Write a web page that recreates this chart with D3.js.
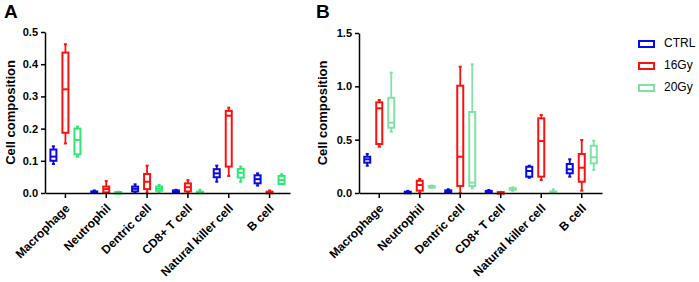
<!DOCTYPE html>
<html>
<head>
<meta charset="utf-8">
<script src="https://cdn.jsdelivr.net/npm/d3@7"></script>
<style>
  body { margin: 0; background: #fff; }
  svg { font-family: "Liberation Sans", Arial, sans-serif; }
</style>
</head>
<body>
<svg id="canvas"></svg>
<script>
const categories = ["Macrophage", "Neutrophil", "Dentric cell", "CD8+ T cell", "Natural killer cell", "B cell"];
const groups = ["CTRL", "16Gy", "20Gy"];

// each entry: [min, q1, median, q3, max]
const statsA_CTRL = [[0.09, 0.10, 0.113, 0.135, 0.145], [0, 0.001, 0.003, 0.005, 0.008], [0, 0.005, 0.013, 0.02, 0.027], [0, 0.002, 0.005, 0.008, 0.01], [0.035, 0.049, 0.061, 0.074, 0.085], [0.023, 0.03, 0.043, 0.055, 0.061]];
const statsA_16Gy = [[0.154, 0.187, 0.322, 0.436, 0.462], [0, 0.002, 0.012, 0.02, 0.037], [0.002, 0.012, 0.035, 0.059, 0.085], [0, 0.005, 0.018, 0.03, 0.04], [0.053, 0.082, 0.24, 0.255, 0.265], [0, 0.001, 0.002, 0.004, 0.008]];
const statsA_20Gy = [[0.113, 0.12, 0.165, 0.2, 0.206], [0, 0.001, 0.002, 0.003, 0.004], [0.002, 0.007, 0.013, 0.02, 0.025], [0, 0, 0.002, 0.004, 0.01], [0.035, 0.048, 0.063, 0.075, 0.082], [0.027, 0.028, 0.04, 0.053, 0.058]];

const statsB_CTRL = [[0.256, 0.284, 0.316, 0.34, 0.366], [0, 0.003, 0.008, 0.012, 0.02], [0, 0.005, 0.015, 0.025, 0.035], [0, 0.005, 0.012, 0.02, 0.028], [0.143, 0.153, 0.206, 0.246, 0.256], [0.153, 0.185, 0.222, 0.272, 0.316]];
const statsB_16Gy = [[0.434, 0.459, 0.794, 0.85, 0.872], [0, 0.022, 0.075, 0.115, 0.131], [0, 0.066, 0.34, 1.006, 1.184], [0, 0.001, 0.004, 0.008, 0.01], [0.122, 0.153, 0.487, 0.70, 0.731], [0.022, 0.106, 0.237, 0.366, 0.497]];
const statsB_20Gy = [[0.575, 0.612, 0.659, 0.893, 1.128], [0.05, 0.055, 0.06, 0.065, 0.07], [0.044, 0.066, 0.097, 0.759, 1.206], [0.02, 0.03, 0.038, 0.045, 0.053], [0, 0.003, 0.008, 0.015, 0.035], [0.216, 0.278, 0.335, 0.443, 0.49]];

const yTicksA = [0, 0.1, 0.2, 0.3, 0.4, 0.5];
const yTicksB = [0, 0.5, 1.0, 1.5];

const colorsA = ["#0a0ae6", "#ff1010", "#2ee874"];
const colorsB = ["#0a0ae6", "#ff1010", "#7fe3a3"];

const width = 699, height = 282;
const svg = d3.select("#canvas").attr("width", width).attr("height", height);

renderPanel(svg, {x0: 45, x1: 290, yTop: 32, yBottom: 193}, [statsA_CTRL, statsA_16Gy, statsA_20Gy], colorsA, [0, 0.5], yTicksA, "A", 12);
renderPanel(svg, {x0: 359, x1: 602, yTop: 33, yBottom: 193}, [statsB_CTRL, statsB_16Gy, statsB_20Gy], colorsB, [0, 1.5], yTicksB, "B", 324);
renderLegend(svg, 638, 44);

function renderPanel(root, box, series, colors, yDomain, yTicks, letter, titleX) {
    const xScale = d3.scaleBand().domain(categories).range([box.x0, box.x1]);
    const yScale = d3.scaleLinear().domain(yDomain).range([box.yBottom, box.yTop]);
    const offset = d3.scalePoint().domain(groups).range([-12, 12]);

    const g = root.append("g");

    // boxes
    series.forEach((stats, si) => {
        const grp = groups[si];
        const col = colors[si];
        const bw = 6;
        const sg = g.append("g").attr("stroke", col).attr("fill", "none");
        stats.forEach((s, ci) => {
            const cx = xScale(categories[ci]) + xScale.bandwidth() / 2 + offset(grp);
            const [mn, q1, md, q3, mx] = s;
            sg.append("line").attr("x1", cx).attr("x2", cx)
                .attr("y1", yScale(mx)).attr("y2", yScale(q3)).attr("stroke-width", 1.8);
            sg.append("line").attr("x1", cx).attr("x2", cx)
                .attr("y1", yScale(q1)).attr("y2", yScale(mn)).attr("stroke-width", 1.8);
            sg.append("line").attr("x1", cx - 1.5).attr("x2", cx + 1.5)
                .attr("y1", yScale(mx)).attr("y2", yScale(mx)).attr("stroke-width", 2);
            sg.append("line").attr("x1", cx - 1.5).attr("x2", cx + 1.5)
                .attr("y1", yScale(mn)).attr("y2", yScale(mn)).attr("stroke-width", 2);
            const top = yScale(q3), bot = yScale(q1);
            sg.append("rect").attr("x", cx - bw / 2).attr("y", top)
                .attr("width", bw).attr("height", Math.max(bot - top, 1.5))
                .attr("fill", "#fff").attr("stroke-width", 2);
            sg.append("line").attr("x1", cx - bw / 2).attr("x2", cx + bw / 2)
                .attr("y1", yScale(md)).attr("y2", yScale(md)).attr("stroke-width", 2);
        });
    });

    // y axis
    const yAxis = d3.axisLeft(yScale).tickValues(yTicks).tickFormat(d3.format(".1f")).tickSize(4).tickSizeOuter(0);
    g.append("g").attr("transform", `translate(${box.x0},0)`)
        .call(yAxis)
        .call(a => a.select(".domain").attr("stroke-width", 1.5))
        .call(a => a.selectAll(".tick line").attr("stroke-width", 1.5))
        .call(a => a.selectAll("text").attr("font-size", 11).attr("font-weight", "bold").attr("fill", "#000").attr("font-family", "Liberation Sans, Arial, sans-serif"));

    // x axis
    const xAxis = d3.axisBottom(xScale).tickSize(5).tickSizeOuter(0);
    g.append("g").attr("transform", `translate(0,${box.yBottom})`)
        .call(xAxis)
        .call(a => a.select(".domain").attr("stroke-width", 1.5))
        .call(a => a.selectAll(".tick line").attr("stroke-width", 1.5))
        .call(a => a.selectAll("text")
            .attr("font-size", 12).attr("font-weight", "bold").attr("fill", "#000")
            .attr("font-family", "Liberation Sans, Arial, sans-serif")
            .attr("text-anchor", "end")
            .attr("dy", null).attr("y", null)
            .attr("transform", "translate(5,16) rotate(-45)"));

    // y title
    g.append("text")
        .attr("transform", `translate(${titleX},${(box.yTop + box.yBottom) / 2}) rotate(-90)`)
        .attr("text-anchor", "middle")
        .attr("dominant-baseline", "middle")
        .attr("font-size", 13).attr("font-weight", "bold")
        .text("Cell composition");

    // panel letter
    g.append("text")
        .attr("x", titleX - 8)
        .attr("y", 18)
        .attr("font-size", 19).attr("font-weight", "bold")
        .text(letter);
}

function renderLegend(root, x, y) {
    const lg = root.append("g").attr("transform", `translate(${x},${y})`);
    const cols = [colorsA[0], colorsA[1], colorsB[2]];
    groups.forEach((name, i) => {
        const row = lg.append("g").attr("transform", `translate(0,${i * 22})`);
        row.append("rect").attr("x", 1).attr("y", -3).attr("width", 15).attr("height", 6)
            .attr("fill", "none").attr("stroke", cols[i]).attr("stroke-width", 2);
        row.append("text").attr("x", 26).attr("y", 0).attr("dominant-baseline", "middle")
            .attr("font-size", 12).text(name);
    });
}
</script>
</body>
</html>
